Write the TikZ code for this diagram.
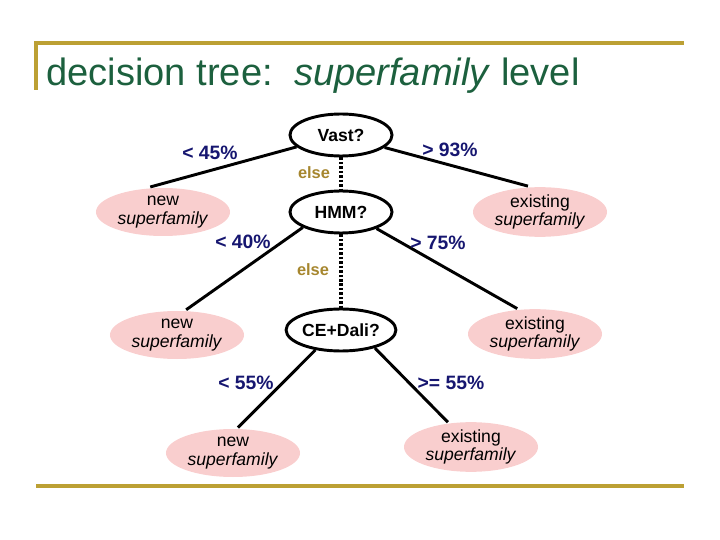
\documentclass[tikz,border=0pt]{standalone}
\usepackage{fontspec}
\setmainfont{Liberation Sans}
\usetikzlibrary{shapes.geometric}
\definecolor{titlegreen}{RGB}{28,96,62}
\definecolor{rulegold}{RGB}{188,160,52}
\definecolor{pctblue}{RGB}{22,22,112}
\definecolor{elsegold}{RGB}{166,134,46}
\definecolor{leafpink}{RGB}{249,206,206}

\begin{document}
\begin{tikzpicture}[x=.03cm, y=-.03cm, line width=2.5pt,
  test/.style={ellipse, draw, inner sep=0pt, minimum width=3.06cm, minimum height=1.26cm, font=\fontsize{15}{16}\selectfont\bfseries},
  leaf/.style={ellipse, fill=leafpink, inner sep=0pt, minimum width=4.02cm, minimum height=1.44cm, align=center, font=\fontsize{15}{16}\selectfont},
  cond/.style={text=pctblue, font=\fontsize{16.5}{16.5}\selectfont\bfseries},
  elselbl/.style={text=elsegold, font=\fontsize{14}{14}\selectfont\bfseries},
  goldrule/.style={draw=rulegold, line width=2.6pt},
  dots/.style={line width=2.6pt, dash pattern=on 2.2pt off 1.6pt}]
\useasboundingbox (0,0) rectangle (720,540);
% frame and title
\coordinate (tl) at (36,43);
\coordinate (tr) at (684,43);
\coordinate (tb) at (36,90);
\coordinate (bl) at (36,486);
\coordinate (br) at (684,486);
\draw[goldrule] (tb) -- (tl) -- (tr);
\draw[goldrule] (bl) -- (br);
\node[anchor=base west, inner sep=0pt, text=titlegreen, font=\fontsize{32.5}{36}\selectfont] (title) at (45,86) {decision tree:~~\textit{superfamily} level};
% tests
\node[test] (vast) at (341,135) {Vast?};
\node[test] (hmm) at (341,212) {HMM?};
\node[test] (ce) at (341,330) {CE+Dali?};
% leaves
\node[leaf] (new1) at (163,212) {new\\\textit{superfamily}};
\node[leaf] (ex1) at (540,212) {existing\\\textit{superfamily}};
\node[leaf] (new2) at (177,335) {new\\\textit{superfamily}};
\node[leaf] (ex2) at (535,334) {existing\\\textit{superfamily}};
\node[leaf] (new3) at (233,453) {new\\\textit{superfamily}};
\node[leaf] (ex3) at (471,447) {existing\\\textit{superfamily}};
% branches
\draw (vast.195) -- (new1.117);
\draw (vast.-16) -- (ex1.115);
\draw (hmm.202) -- (new2.70);
\draw (hmm.-25) -- (ex2.125);
\draw (ce.218) -- (new3.79);
\draw (ce.-28) -- (ex3.133);
\draw[dots] (vast) -- (hmm);
\draw[dots] (hmm) -- (ce);
% labels
\node[cond] (c45) at (210,153) {< 45\%};
\node[cond] (c93) at (450,150) {> 93\%};
\node[cond] (c40) at (243,242) {< 40\%};
\node[cond] (c75) at (438,243) {> 75\%};
\node[cond] (c55a) at (246,383) {< 55\%};
\node[cond] (c55b) at (451,383) {>= 55\%};
\node[elselbl] (else1) at (314,173) {else};
\node[elselbl] (else2) at (313,270) {else};
\end{tikzpicture}
\end{document}
